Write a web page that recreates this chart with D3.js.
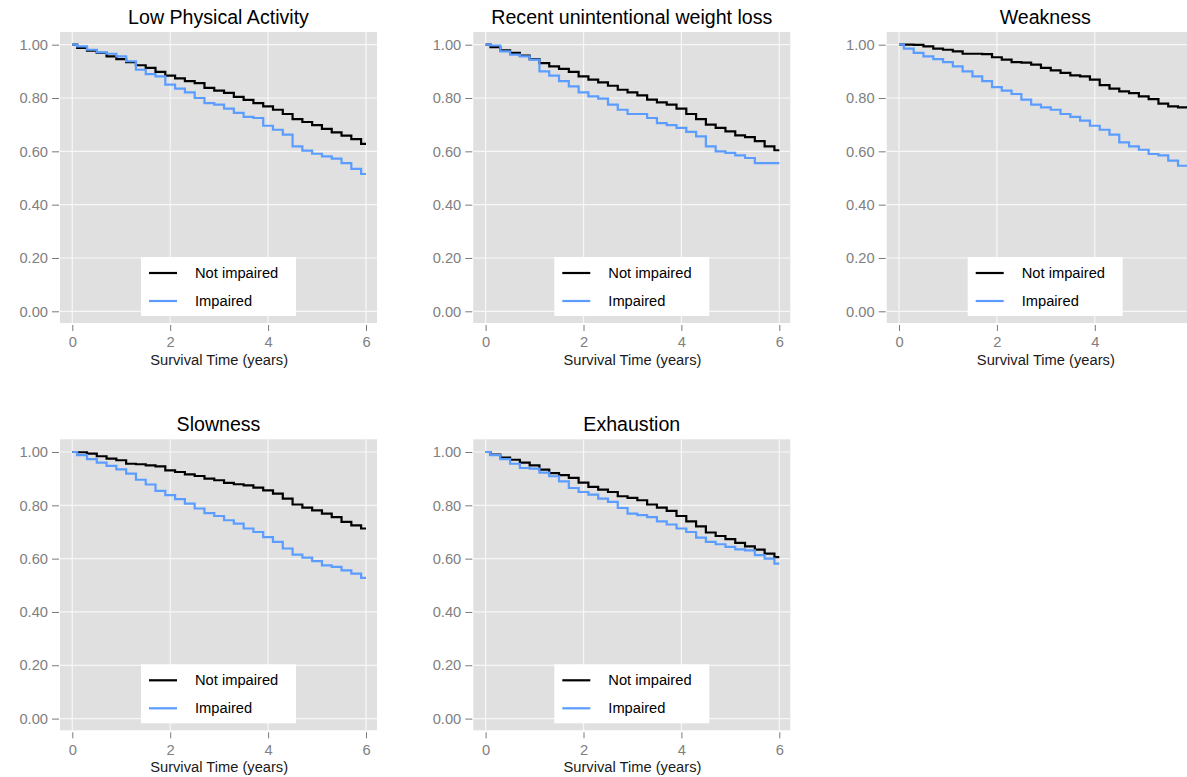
<!DOCTYPE html>
<html>
<head>
<meta charset="utf-8">
<script src="https://cdn.jsdelivr.net/npm/d3@7"></script>
<style>
  body { margin: 0; background: #ffffff; }
  svg { display: block; font-family: Arial, "Liberation Sans", sans-serif; }
</style>
</head>
<body>
<svg id="chart" width="1187" height="777"></svg>
<script>
// Kaplan-Meier survival estimates, read at 0.2-year intervals
const years = [0, 0.2, 0.4, 0.6, 0.8, 1.0, 1.2, 1.4, 1.6, 1.8, 2.0, 2.2, 2.4, 2.6, 2.8, 3.0,
               3.2, 3.4, 3.6, 3.8, 4.0, 4.2, 4.4, 4.6, 4.8, 5.0, 5.2, 5.4, 5.6, 5.8, 6.0];

const activityNot = [1.000, 0.988, 0.978, 0.969, 0.956, 0.946, 0.935, 0.923, 0.913, 0.898, 0.884,
                     0.874, 0.863, 0.856, 0.838, 0.828, 0.819, 0.804, 0.793, 0.781, 0.769,
                     0.756, 0.740, 0.721, 0.710, 0.698, 0.684, 0.671, 0.659, 0.646, 0.628];
const activityImp = [1.000, 0.994, 0.981, 0.971, 0.966, 0.956, 0.938, 0.906, 0.890, 0.881, 0.850,
                     0.835, 0.821, 0.800, 0.781, 0.775, 0.760, 0.744, 0.729, 0.725, 0.696,
                     0.681, 0.663, 0.619, 0.603, 0.591, 0.581, 0.573, 0.556, 0.534, 0.515];

const weightNot = [1.000, 0.991, 0.979, 0.969, 0.959, 0.946, 0.931, 0.919, 0.909, 0.898, 0.881,
                   0.869, 0.859, 0.846, 0.831, 0.821, 0.810, 0.794, 0.784, 0.775, 0.760,
                   0.740, 0.721, 0.700, 0.688, 0.675, 0.660, 0.653, 0.638, 0.619, 0.604];
const weightImp = [1.000, 0.997, 0.975, 0.963, 0.956, 0.944, 0.900, 0.884, 0.863, 0.844, 0.821,
                   0.806, 0.798, 0.775, 0.756, 0.740, 0.740, 0.725, 0.706, 0.698, 0.688,
                   0.673, 0.656, 0.619, 0.600, 0.594, 0.585, 0.575, 0.556, 0.556, 0.556];

const weaknessNot = [1.000, 1.000, 0.999, 0.994, 0.985, 0.981, 0.975, 0.966, 0.966, 0.965, 0.953,
                     0.944, 0.935, 0.933, 0.925, 0.913, 0.904, 0.894, 0.885, 0.881, 0.869,
                     0.848, 0.835, 0.825, 0.818, 0.806, 0.796, 0.779, 0.769, 0.765, 0.765];
const weaknessImp = [1.000, 0.985, 0.969, 0.956, 0.946, 0.935, 0.919, 0.900, 0.881, 0.863, 0.841,
                     0.828, 0.815, 0.794, 0.775, 0.765, 0.756, 0.740, 0.729, 0.715, 0.696,
                     0.681, 0.663, 0.634, 0.619, 0.606, 0.590, 0.585, 0.565, 0.546, 0.545];

const slownessNot = [1.000, 0.999, 0.994, 0.984, 0.975, 0.969, 0.956, 0.954, 0.950, 0.946, 0.931,
                     0.925, 0.916, 0.910, 0.900, 0.894, 0.884, 0.879, 0.875, 0.866, 0.856,
                     0.844, 0.825, 0.803, 0.791, 0.781, 0.769, 0.756, 0.738, 0.725, 0.713];
const slownessImp = [1.000, 0.988, 0.973, 0.960, 0.948, 0.935, 0.919, 0.896, 0.878, 0.854, 0.838,
                     0.823, 0.806, 0.788, 0.771, 0.760, 0.744, 0.731, 0.713, 0.700, 0.681,
                     0.663, 0.638, 0.615, 0.604, 0.591, 0.575, 0.569, 0.556, 0.544, 0.528];

const exhaustionNot = [1.000, 0.990, 0.979, 0.971, 0.960, 0.950, 0.934, 0.921, 0.913, 0.903, 0.885,
                       0.869, 0.859, 0.850, 0.834, 0.828, 0.819, 0.803, 0.791, 0.779, 0.760,
                       0.740, 0.721, 0.698, 0.685, 0.673, 0.659, 0.646, 0.634, 0.619, 0.606];
const exhaustionImp = [1.000, 0.988, 0.973, 0.956, 0.940, 0.938, 0.923, 0.909, 0.890, 0.865, 0.850,
                       0.840, 0.825, 0.813, 0.790, 0.769, 0.763, 0.756, 0.740, 0.728, 0.713,
                       0.700, 0.679, 0.663, 0.654, 0.644, 0.635, 0.631, 0.613, 0.600, 0.581];

const panelTitles = ["Low Physical Activity", "Recent unintentional weight loss", "Weakness",
                     "Slowness", "Exhaustion"];
const groupLabels = ["Not impaired", "Impaired"];
const groupColors = ["#000000", "#5a9cff"];
const xTicks = [0, 2, 4, 6];
const yTicks = [0, 0.2, 0.4, 0.6, 0.8, 1.0];
const xAxisTitle = "Survival Time (years)";

const panels = [
  { title: panelTitles[0], series: [activityNot, activityImp] },
  { title: panelTitles[1], series: [weightNot, weightImp] },
  { title: panelTitles[2], series: [weaknessNot, weaknessImp] },
  { title: panelTitles[3], series: [slownessNot, slownessImp] },
  { title: panelTitles[4], series: [exhaustionNot, exhaustionImp] }
];

// Layout of the 3 x 2 grid of plot regions
const pageW = 1187;
const plotW = 317, plotH = 291;
const colLeft = [60, 473.3, 886.7];
const rowTop = [32, 439.3];

const svg = d3.select("#chart");

const x = d3.scaleLinear().domain([0, 6]).range([12.3, 306]);
const y = d3.scaleLinear().domain([0, 1]).range([279.3, 12.7]);

const line = d3.line()
  .x(d => x(d[0]))
  .y(d => y(d[1]))
  .curve(d3.curveStep);

panels.forEach((p, i) => {
  const left = colLeft[i % 3];
  const top = rowTop[Math.floor(i / 3)];
  const g = svg.append("g").attr("transform", `translate(${left},${top})`);

  // plot region
  g.append("rect")
    .attr("width", plotW).attr("height", plotH)
    .attr("fill", "#e0e0e0");

  // grid lines
  g.append("g").selectAll("line").data(yTicks).join("line")
    .attr("x1", 0).attr("x2", plotW)
    .attr("y1", d => y(d)).attr("y2", d => y(d))
    .attr("stroke", "#f7f7f7").attr("stroke-width", 1.2);
  g.append("g").selectAll("line").data(xTicks).join("line")
    .attr("y1", 0).attr("y2", plotH)
    .attr("x1", d => x(d)).attr("x2", d => x(d))
    .attr("stroke", "#f7f7f7").attr("stroke-width", 1.2);

  // y axis
  const yAxis = d3.axisLeft(y).tickValues(yTicks).tickFormat(d3.format(".2f"))
    .tickSize(7).tickPadding(4);
  const ya = g.append("g").attr("transform", "translate(-1,0)").call(yAxis);
  ya.select(".domain").remove();
  ya.selectAll(".tick line").attr("stroke", "#7a7a7a");
  ya.selectAll(".tick text").attr("fill", "#808080")
    .style("font-size", "14.7px").style("font-family", "Arial, 'Liberation Sans', sans-serif");

  // x axis: ticks past the right edge of the page are left out
  const shownX = xTicks.filter(t => left + x(t) + 6 <= pageW);
  const xAxis = d3.axisBottom(x).tickValues(shownX).tickFormat(d3.format("d"))
    .tickSize(6).tickPadding(6);
  const xa = g.append("g").attr("transform", `translate(0,${plotH + 2})`).call(xAxis);
  xa.select(".domain").remove();
  xa.selectAll(".tick line").attr("stroke", "#7a7a7a");
  xa.selectAll(".tick text").attr("fill", "#808080")
    .style("font-size", "14.7px").style("font-family", "Arial, 'Liberation Sans', sans-serif");

  g.append("text")
    .attr("x", (x(0) + x(6)) / 2).attr("y", plotH + 42)
    .attr("text-anchor", "middle")
    .attr("fill", "#1a1a1a")
    .style("font-size", "14.7px")
    .text(xAxisTitle);

  // title
  g.append("text")
    .attr("x", plotW / 2).attr("y", -8)
    .attr("text-anchor", "middle")
    .attr("fill", "#000")
    .style("font-size", "19.6px")
    .text(p.title);

  // survival curves
  p.series.forEach((vals, k) => {
    const pts = years.map((t, j) => [t, vals[j]]);
    g.append("path")
      .datum(pts)
      .attr("fill", "none")
      .attr("stroke", groupColors[k])
      .attr("stroke-width", 2.2)
      .attr("d", line);
  });

  // legend
  const lw = 155, lh = 59;
  const lg = g.append("g").attr("transform", `translate(${(plotW - lw) / 2},225)`);
  lg.append("rect").attr("width", lw).attr("height", lh).attr("fill", "#ffffff");
  groupLabels.forEach((lab, k) => {
    const ry = 16 + k * 28;
    lg.append("line")
      .attr("x1", 8).attr("x2", 36).attr("y1", ry).attr("y2", ry)
      .attr("stroke", groupColors[k]).attr("stroke-width", 2.2);
    lg.append("text")
      .attr("x", 54).attr("y", ry + 5)
      .attr("fill", "#000")
      .style("font-size", "14.7px")
      .text(lab);
  });
});
</script>
</body>
</html>
